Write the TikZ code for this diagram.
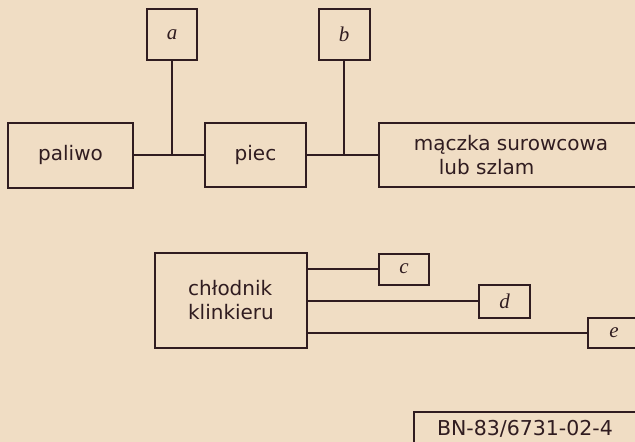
\documentclass[tikz,border=0pt]{standalone}
\usepackage{fontspec}
\setmainfont{DejaVu Sans}
\newfontfamily\lblfont{Liberation Serif}
\definecolor{bg}{RGB}{240,221,196}
\definecolor{ink}{RGB}{48,28,32}
\begin{document}
\begin{tikzpicture}[x=1pt,y=-1pt,
  box/.style={draw=ink,line width=2pt,inner sep=0pt,text=ink,font=\fontsize{20}{24}\selectfont},
  lbox/.style={draw=ink,line width=2pt,inner sep=0pt,text=ink,font=\lblfont\itshape\fontsize{21}{22}\selectfont},
  wire/.style={draw=ink,line width=2pt}]
\fill[bg] (0,0) rectangle (635,442);
\useasboundingbox (0,0) rectangle (635,442);
\clip (0,0) rectangle (635,442);
% upper chain
\node[lbox,minimum width=50pt,minimum height=51pt] (a) at (172,34.5) {a};
\node[lbox,minimum width=51pt,minimum height=51pt] (b) at (344,34.5) {b};
\node[box,minimum width=125pt,minimum height=65pt] (pal) at (70.5,155) {paliwo};
\node[box,minimum width=101pt,minimum height=64pt] (piec) at (255.5,155) {piec};
\node[box,minimum width=264pt,minimum height=64pt,align=left] (mac) at (511,155) {mączka surowcowa\\\hspace*{25pt}lub szlam};
\draw[wire] (pal.east) -- (piec.west);
\draw[wire] (a.south) -- (a.south |- pal.east);
\draw[wire] (piec.east) -- (mac.west);
\draw[wire] (b.south) -- (b.south |- piec.east);
% cooler
\node[box,minimum width=152pt,minimum height=95pt,align=left] (chl) at (231,300.5) {chłodnik\\klinkieru};
\node[lbox,minimum width=50pt,minimum height=31pt] (c) at (404,269) {c};
\node[lbox,minimum width=51pt,minimum height=33pt] (d) at (504.5,301) {d};
\node[lbox,minimum width=52pt,minimum height=30pt] (e) at (614,333) {e};
\draw[wire] (chl.east |- c.west) -- (c.west);
\draw[wire] (chl.east |- d.west) -- (d.west);
\draw[wire] (chl.east |- e.west) -- (e.west);
% standard number
\node[box,minimum width=222pt,minimum height=33pt,font=\fontsize{20.5}{24}\selectfont] (bn) at (525,428.5) {BN-83/6731-02-4};
\end{tikzpicture}
\end{document}
